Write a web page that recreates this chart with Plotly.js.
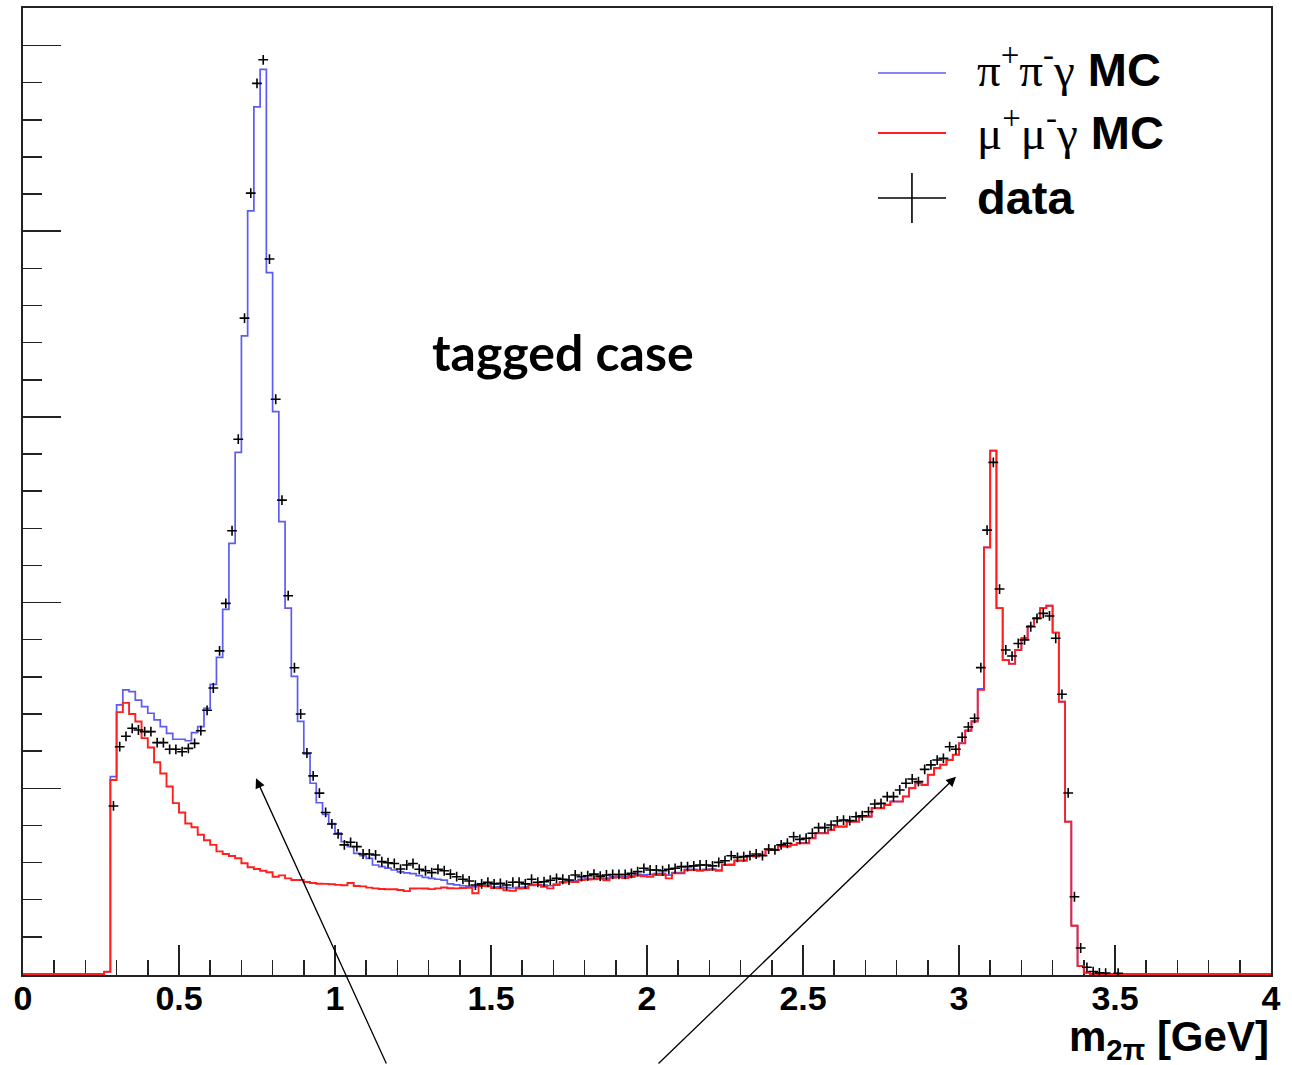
<!DOCTYPE html>
<html>
<head>
<meta charset="utf-8">
<script src="https://cdn.plot.ly/plotly-3.0.1.min.js"></script>
<style>
  html, body { margin: 0; padding: 0; background: #ffffff; }
  #chart { width: 1292px; height: 1065px; }
</style>
</head>
<body>
<div id="chart"></div>
<script>
// ---- Histogram binning: 200 bins of 0.02 GeV from 0 to 4 GeV ----
const BIN_WIDTH = 0.02;
const X_MIN = 0;
const X_MAX = 4;

// pi+ pi- gamma MC (blue), bin contents, bins 0.00-0.02 ... 3.98-4.00
const pipiMC = [
  0,0,0,0,0,0,0,0,0,0,0,0,0,
  1.2, 106.3, 144.9, 153, 152, 147.5, 144, 140.4, 136.8, 133.2,
  129.6, 126.4, 126.4, 125.6, 130, 133.2, 143, 156, 170.5, 196.4,
  231.9, 280.9, 343.6, 410.9, 467, 487.2, 377.7, 302.8, 243.6, 197,
  160.3, 136, 118.5, 102.7, 92.2, 86, 81, 75.8, 71.2, 68.6,
  65, 63.7, 62.3, 58.7, 57.8, 57, 56, 55, 54.5, 54,
  53, 52, 51.5, 51, 50.5, 48.5, 48, 47.5, 47.3, 47,
  47.6, 47.4, 46.8, 46.9, 46.5, 46.3, 46.6, 46.8, 48.2, 48.3,
  47.8, 47.5, 48.4, 49.6, 50, 50.2, 51, 51.3, 51.5, 51.8,
  51.5, 52.3, 52.6, 52.4, 53, 53.6, 53.4, 53.5, 54, 54.2,
  53.2, 54.6, 54.6, 56.3, 56.3, 56, 56.3, 56.5, 56, 58.9,
  59, 61.2, 61.2, 63.7, 63.6, 64.3, 67, 67, 68.8, 68.8,
  69.7, 70.6, 70.6, 73.3, 76, 76, 77.7, 79.5, 79.5, 82.2,
  82.2, 84.9, 84.9, 89.4, 89.4, 91.2, 93, 93, 95.7, 100.2,
  103.4, 102, 107.4, 111, 112.8, 115.4, 118.2, 124.4, 131.2, 136.2,
  153.6, 229.8, 281.9, 197.1, 169.1, 167.1, 174.6, 180.9, 187.5, 191.6,
  197.1, 198.4, 183.9, 146.7, 82, 26, 4.3, 0.7,
  0,0,0,0,0,0,0,0,0,0,0,0,0,0,0,0,0,0,0,0,0,0,0,0,0,0,0,0,0
];

// mu+ mu- gamma MC (red)
const mumuMC = [
  0,0,0,0,0,0,0,0,0,0,0,0,0,
  1.2, 104.5, 141, 146, 140, 136, 127, 122, 114, 108,
  101, 92, 87, 81, 79, 75, 72, 69.5, 66, 64.6,
  63.5, 62.3, 59.6, 57.5, 56.5, 55.6, 54.8, 52.4, 53.1, 51.5,
  50.6, 50.6, 49.5, 49, 48.6, 48.5, 48.3, 48, 47.8, 49,
  47.4, 47.2, 46.5, 46.1, 45.8, 45.6, 45.6, 45.2, 44.6, 46,
  46.1, 46, 45.7, 46.1, 46.6, 46.2, 46.1, 46.3, 46.4, 43.5,
  47.4, 47.2, 46.3, 46.1, 45, 44.8, 46, 46.2, 47.8, 47.9,
  47, 46.1, 47.9, 49.2, 49.7, 49.5, 50.6, 50.8, 51, 51.2,
  50.5, 51.8, 52, 51.6, 52.2, 53, 52.6, 52.4, 53.3, 53.3,
  51.5, 54.2, 54.2, 56, 56, 55.5, 56, 56.2, 55.6, 58.7,
  58.7, 61, 61, 63.5, 63.3, 64.1, 66.8, 66.8, 68.6, 68.6,
  69.5, 70.4, 70.4, 73.1, 75.8, 75.8, 77.5, 79.3, 79.3, 82,
  82, 84.7, 84.7, 89.2, 89.2, 91, 92.8, 92.8, 95.5, 100,
  102.7, 101.8, 107.2, 110.8, 112.6, 115.2, 118, 124.2, 131, 136,
  153, 229.7, 281.8, 197, 169, 167, 174.5, 180.8, 187.4, 191.5,
  197, 198.3, 183.8, 146.6, 82, 26, 4.3, 0.7,
  0,0,0,0,0,0,0,0,0,0,0,0,0,0,0,0,0,0,0,0,0,0,0,0,0,0,0,0,0
];

// data (null = empty bin, not drawn)
const dataCounts = [
  null,null,null,null,null,null,null,null,null,null,null,null,null,
  null, 90.5, 122.4, 128, 132.3, 131.4, 130.5, 130.5, 124.6, 124.6,
  121, 121, 119.7, 121.5, 124.2, 131, 142, 154, 174, 199.6,
  238.7, 288, 353.2, 420.5, 479.6, 492.3, 385, 309.5, 255.2, 203.7,
  164.9, 140, 119, 106.7, 97.4, 87, 80.8, 75.4, 69.5, 70.9,
  68.6, 64.6, 64.6, 64.1, 60.5, 59.9, 59.5, 56.5, 58.7, 59.5,
  56.4, 55.6, 54.6, 56.4, 55.6, 53.8, 52.4, 51, 50.1, 47.9,
  48.5, 49.4, 48.5, 48.8, 47.9, 49.4, 49.4, 48.5, 51, 49.4,
  49.7, 50.5, 51.5, 51, 50.6, 53.3, 52.4, 52.9, 53.8, 52.7,
  53.3, 53.6, 53.6, 53.6, 54.2, 55.1, 56.9, 56, 56, 55.6,
  56.4, 56.9, 57.8, 57.8, 58.2, 58.7, 58.7, 58.2, 60.1, 61,
  63.7, 62.8, 63.2, 63.7, 64.6, 63.7, 67.3, 66.8, 69.5, 70.4,
  73.9, 72.5, 73.1, 75.8, 78.8, 78.8, 80.2, 82.4, 82.9, 82.6,
  84.7, 85.2, 87.4, 91.5, 91.9, 95.5, 95.5, 99.1, 102.7, 105,
  103.6, 110.2, 112.6, 115.2, 116.1, 122.4, 121, 127.5, 133, 137.7,
  165, 239, 275.5, 207.3, 174.5, 171.2, 178, 179.9, 187, 191.5,
  194.2, 192.8, 180.8, 150.6, 97.5, 41.6, 14, 3.6,
  1.3, 0.6, 0.5, null, 0.4, null,null,null,null,null,null,null,null,null,
  null,null,null,null,null,null,null,null,null,null,null,null,null,null,null
];

const xTickVals = [0, 0.5, 1, 1.5, 2, 2.5, 3, 3.5, 4];
const xTickText = ['0', '0.5', '1', '1.5', '2', '2.5', '3', '3.5', '4'];

const legendLabels = [
  '<span style="font-family:\'Liberation Serif\';font-weight:normal">π<sup>+</sup>π<sup>-</sup>γ</span> MC',
  '<span style="font-family:\'Liberation Serif\';font-weight:normal">μ<sup>+</sup>μ<sup>-</sup>γ</span> MC',
  'data'
];
const BLUE = '#5c5cf2';
const RED = '#ff1f1f';

// ---- build step-histogram coordinates from the bin grid ----
const nBins = pipiMC.length;
const binLow = [];
for (let i = 0; i < nBins; i++) binLow.push(+(X_MIN + i * BIN_WIDTH).toFixed(4));
const binCenter = binLow.map(v => +(v + BIN_WIDTH / 2).toFixed(4));
const stepX = binLow.concat([X_MAX]);
function stepY(arr) { return arr.concat([arr[arr.length - 1]]); }

const traces = [
  { type: 'scatter', mode: 'lines', name: 'π+π-γ MC', x: stepX, y: stepY(pipiMC),
    line: { shape: 'hv', color: BLUE, width: 1.7 }, hoverinfo: 'skip' },
  { type: 'scatter', mode: 'lines', name: 'μ+μ-γ MC', x: stepX, y: stepY(mumuMC),
    line: { shape: 'hv', color: RED, width: 1.9 }, hoverinfo: 'skip' },
  { type: 'scatter', mode: 'markers', name: 'data', x: binCenter, y: dataCounts,
    marker: { symbol: 'cross-thin', size: 7, color: '#000', line: { color: '#000', width: 1.6 } },
    hoverinfo: 'skip' }
];

const FRAME = '#222222';
const TICKFONT = { family: "'Liberation Sans', Arial, sans-serif", size: 34, color: '#000', weight: 'bold' };
const TITLEFONT = { family: "'Liberation Sans', Arial, sans-serif", size: 42, color: '#000', weight: 'bold' };

// paper-coordinate layout decorations (plot area: l=23, width 1248, t=8, height 967)
const legendShapes = [
  { type: 'line', xref: 'paper', yref: 'paper', x0: 0.6851, x1: 0.7396, y0: 0.9328, y1: 0.9328, line: { color: BLUE, width: 1.7 } },
  { type: 'line', xref: 'paper', yref: 'paper', x0: 0.6851, x1: 0.7396, y0: 0.8707, y1: 0.8707, line: { color: RED, width: 2 } },
  { type: 'line', xref: 'paper', yref: 'paper', x0: 0.6851, x1: 0.7396, y0: 0.8035, y1: 0.8035, line: { color: '#000', width: 1.6 } },
  { type: 'line', xref: 'paper', yref: 'paper', x0: 0.7123, x1: 0.7123, y0: 0.7777, y1: 0.8294, line: { color: '#000', width: 1.6 } }
];
const LEGFONT = { family: "'Liberation Sans', Arial, sans-serif", size: 47, color: '#000', weight: 'bold' };
const legendRowsY = [0.9390, 0.8740, 0.8045];

const annotations = legendLabels.map((t, i) => ({
  xref: 'paper', yref: 'paper', x: 0.7628, y: legendRowsY[i], xanchor: 'left', yanchor: 'middle',
  text: t, showarrow: false, font: LEGFONT
}));
annotations.push({
  xref: 'paper', yref: 'paper', x: 0.4327, y: 0.644, xanchor: 'center', yanchor: 'middle',
  text: 'tagged case', showarrow: false,
  font: { family: 'Lato, "Open Sans", sans-serif', size: 50, color: '#000', weight: 'bold' }
});
annotations.push({
  xref: 'paper', yref: 'paper', x: 1.0, y: -0.0672, xanchor: 'right', yanchor: 'middle',
  text: 'm<sub>2π</sub> [GeV]', showarrow: false, font: TITLEFONT
});
annotations.push({
  xref: 'paper', yref: 'paper', x: 0.1867, y: 0.2034, text: '', showarrow: true,
  ax: 131, ay: 290, arrowhead: 2, arrowsize: 1.5, arrowwidth: 1.3, arrowcolor: '#000', standoff: 0
});
annotations.push({
  xref: 'paper', yref: 'paper', x: 0.7476, y: 0.2051, text: '', showarrow: true,
  ax: -299, ay: 291, arrowhead: 2, arrowsize: 1.5, arrowwidth: 1.3, arrowcolor: '#000', standoff: 0
});

const layout = {
  width: 1292, height: 1065,
  margin: { l: 23, r: 21, t: 8, b: 90, pad: 0 },
  paper_bgcolor: '#ffffff', plot_bgcolor: '#ffffff',
  showlegend: false,
  xaxis: {
    range: [X_MIN, X_MAX], tickmode: 'array', tickvals: xTickVals, ticktext: xTickText,
    ticks: 'inside', ticklen: 30, tickwidth: 1.5, tickcolor: FRAME,
    minor: { dtick: 0.1, tick0: 0, ticks: 'inside', ticklen: 15, tickwidth: 1.5, tickcolor: FRAME, showgrid: false },
    showline: true, linecolor: FRAME, linewidth: 2, mirror: true, ticklabelstandoff: -8,
    showgrid: false, zeroline: false, tickfont: TICKFONT, layer: 'below traces'
  },
  yaxis: {
    range: [-0.55, 520.2], dtick: 100, tick0: 0, showticklabels: false,
    ticks: 'inside', ticklen: 38, tickwidth: 1.5, tickcolor: FRAME,
    minor: { dtick: 20, tick0: 0, ticks: 'inside', ticklen: 19, tickwidth: 1.5, tickcolor: FRAME, showgrid: false },
    showline: true, linecolor: FRAME, linewidth: 2, mirror: true,
    showgrid: false, zeroline: false, layer: 'below traces'
  },
  shapes: legendShapes,
  annotations: annotations
};

Plotly.newPlot('chart', traces, layout, { staticPlot: true, displayModeBar: false });
</script>
</body>
</html>
